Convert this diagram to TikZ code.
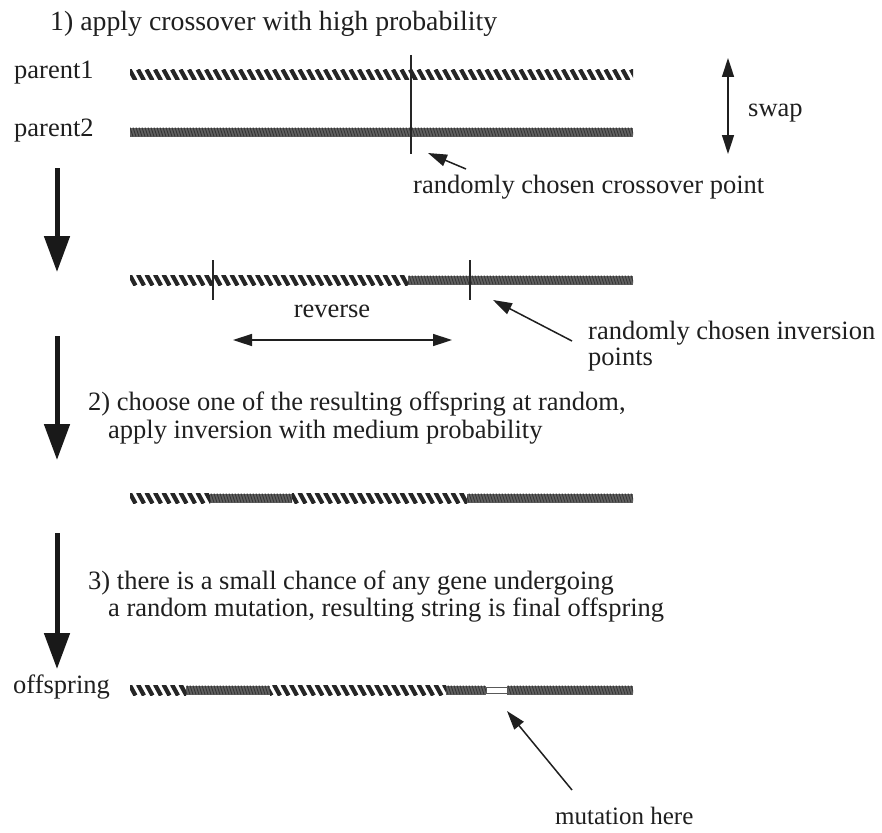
\documentclass[tikz,border=0pt]{standalone}
\usepackage{fontspec}
\setmainfont{Liberation Serif}
\usetikzlibrary{arrows.meta}
\newcommand{\hatchbar}[3]{%
  \begin{scope}
    \clip (#1,#3-5) rectangle (#2,#3+5);
    \foreach \k in {0,...,62}{\draw[stripe] ({121+8.5*\k},#3-5.5) -- ({127+8.5*\k},#3+5.5);}
  \end{scope}}
\newcommand{\graybar}[3]{%
  \begin{scope}
    \clip (#1,#3-4.5) rectangle (#2,#3+4.5);
    \fill[black!62] (#1,#3-4.5) rectangle (#2,#3+4.5);
    \foreach \k in {0,...,172}{\draw[fine] ({124+3*\k},#3-4.5) -- ({127+3*\k},#3+4.5);}
  \end{scope}}
\tikzset{
  stripe/.style={line width=4.2pt, black!85},
  fine/.style={line width=0.8pt, black!80},
  lbl/.style={font=\fontsize{26.5}{32}\selectfont, text=black!88, inner sep=0pt, anchor=base west},
  clbl/.style={lbl, anchor=base},
  tick/.style={line width=1.4pt, black!85},
  thin/.style={line width=1.5pt, black!88, -{Triangle[length=19pt,width=12pt]}},
  thinboth/.style={line width=1.5pt, black!88, {Triangle[length=19pt,width=12pt]}-{Triangle[length=19pt,width=12pt]}},
  bigarrow/.style={line width=5pt, black!90, -{Triangle[length=36pt,width=25pt]}},
}
\begin{document}
\begin{tikzpicture}[x=1pt,y=-1pt]
\useasboundingbox (0,0) rectangle (882,832);
\fill[white] (0,0) rectangle (882,832);

% texts
\node[lbl, font=\fontsize{27.8}{32}\selectfont] (t1) at (50,31) {1) apply crossover with high probability};
\node[lbl] (p1) at (14,79) {parent1};
\node[lbl] (p2) at (14,136) {parent2};
\node[lbl] (swap) at (748,116) {swap};
\node[lbl] (cross) at (413,193) {randomly chosen crossover point};
\node[clbl] (rev) at (332,317) {reverse};
\node[lbl] (inv1) at (588,339) {randomly chosen inversion};
\node[lbl] (inv2) at (588,365) {points};
\node[lbl] (t2a) at (88,410) {2) choose one of the resulting offspring at random,};
\node[lbl] (t2b) at (108,438) {apply inversion with medium probability};
\node[lbl] (t3a) at (88,589) {3) there is a small chance of any gene undergoing};
\node[lbl] (t3b) at (108,616) {a random mutation, resulting string is final offspring};
\node[lbl] (off) at (13,693) {offspring};
\node[lbl, font=\fontsize{25}{30}\selectfont] (mut) at (555,824) {mutation here};

% bars
\hatchbar{130}{633}{75}
\graybar{130}{633}{132}
\hatchbar{130}{408}{280}
\graybar{408}{633}{280}
\hatchbar{130}{210}{498}
\graybar{210}{292}{498}
\hatchbar{292}{467}{498}
\graybar{467}{633}{498}
\hatchbar{130}{186}{690}
\graybar{186}{270}{690}
\hatchbar{270}{446}{690}
\graybar{446}{486}{690}
\graybar{507}{633}{690}
\draw[black!65, line width=1pt, fill=white] (486,687) rectangle (507,693);

% ticks
\draw[tick] (411,55) -- (411,154);
\draw[tick] (213,260) -- (213,300);
\draw[tick] (470,260) -- (470,300);

% coordinates for arrows
\coordinate (a1s) at (57,168); \coordinate (a1e) at (57,272);
\coordinate (a2s) at (57,336); \coordinate (a2e) at (57,460);
\coordinate (a3s) at (57,533); \coordinate (a3e) at (57,669);
\coordinate (sw1) at (728,58); \coordinate (sw2) at (728,154);
\coordinate (cxs) at (466,169); \coordinate (cxe) at (428,153);
\coordinate (ivs) at (572,341); \coordinate (ive) at (493,300);
\coordinate (rv1) at (233,340); \coordinate (rv2) at (452,340);
\coordinate (mus) at (572,790); \coordinate (mue) at (507,711);

\draw[bigarrow] (a1s) -- (a1e);
\draw[bigarrow] (a2s) -- (a2e);
\draw[bigarrow] (a3s) -- (a3e);
\draw[thinboth] (sw1) -- (sw2);
\draw[thin] (cxs) -- (cxe);
\draw[thin] (ivs) -- (ive);
\draw[thinboth] (rv1) -- (rv2);
\draw[thin] (mus) -- (mue);
\end{tikzpicture}
\end{document}
